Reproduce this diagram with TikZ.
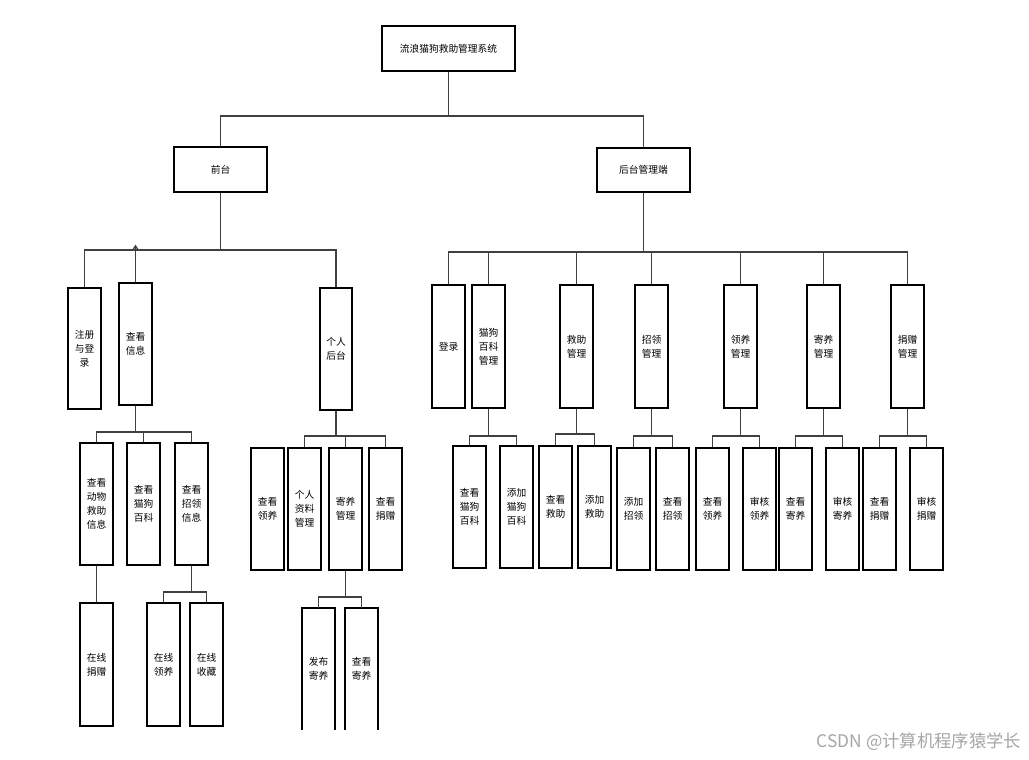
\documentclass[tikz,border=0pt]{standalone}
\usepackage{fontspec}
\setmainfont{Noto Sans CJK SC}
\usetikzlibrary{arrows.meta}
\tikzset{box/.style={draw=black,line width=0.9pt,inner sep=0pt,align=center,font=\fontsize{7.3}{10.5}\selectfont,fill=white},
ln/.style={draw=black!75,line width=1pt}}
\newcommand\bx[6]{\node[box,minimum width={(#4-#2)*0.75pt},minimum height={(#5-#3)*0.75pt}] (#1) at ({(#2+#4)/2},{(#3+#5)/2}) {#6};}
\newcommand\grp[4]{\draw[ln] (#1.south) -- (#1.south|-0,#2); \draw[ln] (#3.north) -- (#3.north|-0,#2) -- (#4.north|-0,#2) -- (#4.north);}
\begin{document}
\begin{tikzpicture}[x=0.75pt,y=-0.75pt]
\useasboundingbox (0,0) rectangle (1029,760);
\fill[white] (0,0) rectangle (1029,760);
\bx{root}{382}{26}{515}{71}{流浪猫狗救助管理系统}
\bx{qt}{174}{147}{267}{192}{前台}
\bx{ht}{597}{148}{690}{192}{后台管理端}
\draw[ln] (root.south) -- (root.south|-0,116);
\draw[ln] (qt.north) -- (qt.north|-0,116) -- (ht.north|-0,116) -- (ht.north);
\bx{zc}{68}{288}{101}{409}{注册\\与登\\录}
\bx{ckxx}{119}{283}{152}{405}{查看\\信息}
\bx{grht}{320}{288}{352}{410}{个人\\后台}
\draw[ln] (qt.south) -- (qt.south|-0,250);
\draw[ln] (zc.north) -- (zc.north|-0,250) -- (grht.north|-0,250) -- (grht.north);
\draw[ln,-{Straight Barb[length=3pt,width=4pt]}] (ckxx.north) -- ([yshift=4pt]ckxx.north|-0,250);
\bx{dw}{80}{443}{113}{565}{查看\\动物\\救助\\信息}
\bx{mg}{127}{443}{160}{565}{查看\\猫狗\\百科}
\bx{zl}{175}{443}{208}{565}{查看\\招领\\信息}
\grp{ckxx}{432}{dw}{zl}
\draw[ln] (mg.north) -- (mg.north|-0,432);
\bx{zxjz}{80}{603}{113}{726}{在线\\捐赠}
\draw[ln] (dw.south) -- (zxjz.north);
\bx{zxly}{147}{603}{180}{726}{在线\\领养}
\bx{zxsc}{190}{603}{223}{726}{在线\\收藏}
\grp{zl}{592}{zxly}{zxsc}
\bx{ckly}{251}{448}{284}{570}{查看\\领养}
\bx{grzl}{288}{448}{321}{570}{个人\\资料\\管理}
\bx{jygl}{329}{448}{362}{570}{寄养\\管理}
\bx{ckjz}{369}{448}{402}{570}{查看\\捐赠}
\grp{grht}{436}{grzl}{ckjz}
\draw[ln] (jygl.north) -- (jygl.north|-0,436);
\node[font=\fontsize{7.3}{10.5}\selectfont,align=center] (fbjy) at (318.5,669) {发布\\寄养};
\node[font=\fontsize{7.3}{10.5}\selectfont,align=center] (ckjy) at (361.5,669) {查看\\寄养};
\draw[line width=0.9pt] (302,730) -- (302,608) -- (335,608) -- (335,730);
\draw[line width=0.9pt] (345,730) -- (345,608) -- (378,608) -- (378,730);
\coordinate (fbt) at (318.5,608); \coordinate (ckt) at (361.5,608);
\draw[ln] (jygl.south) -- (jygl.south|-0,597);
\draw[ln] (fbt) -- (fbt|-0,597) -- (ckt|-0,597) -- (ckt);
\bx{dl}{432}{285}{465}{408}{登录}
\bx{mgbk}{472}{285}{505}{408}{猫狗\\百科\\管理}
\bx{jzgl}{560}{285}{593}{408}{救助\\管理}
\bx{zlgl}{635}{285}{668}{408}{招领\\管理}
\bx{lygl}{724}{285}{757}{408}{领养\\管理}
\bx{jyg}{807}{285}{840}{408}{寄养\\管理}
\bx{jzg}{891}{285}{924}{408}{捐赠\\管理}
\draw[ln] (ht.south) -- (ht.south|-0,252);
\draw[ln] (dl.north) -- (dl.north|-0,252) -- (jzg.north|-0,252) -- (jzg.north);
\foreach \n in {mgbk,jzgl,zlgl,lygl,jyg} \draw[ln] (\n.north) -- (\n.north|-0,252);
\bx{a1}{453}{446}{486}{568}{查看\\猫狗\\百科}
\bx{a2}{500}{446}{533}{568}{添加\\猫狗\\百科}
\grp{mgbk}{436}{a1}{a2}
\bx{b1}{539}{446}{572}{568}{查看\\救助}
\bx{b2}{578}{446}{611}{568}{添加\\救助}
\grp{jzgl}{434}{b1}{b2}
\bx{c1}{617}{448}{650}{570}{添加\\招领}
\bx{c2}{656}{448}{689}{570}{查看\\招领}
\grp{zlgl}{436}{c1}{c2}
\bx{d1}{696}{448}{729}{570}{查看\\领养}
\bx{d2}{743}{448}{776}{570}{审核\\领养}
\grp{lygl}{436}{d1}{d2}
\bx{e1}{779}{448}{812}{570}{查看\\寄养}
\bx{e2}{826}{448}{859}{570}{审核\\寄养}
\grp{jyg}{436}{e1}{e2}
\bx{f1}{863}{448}{896}{570}{查看\\捐赠}
\bx{f2}{910}{448}{943}{570}{审核\\捐赠}
\grp{jzg}{436}{f1}{f2}
\node[text=black!35,font=\fontsize{13}{15}\selectfont,anchor=east] (wm) at (1026,742) {CSDN @计算机程序猿学长};
\end{tikzpicture}
\end{document}
